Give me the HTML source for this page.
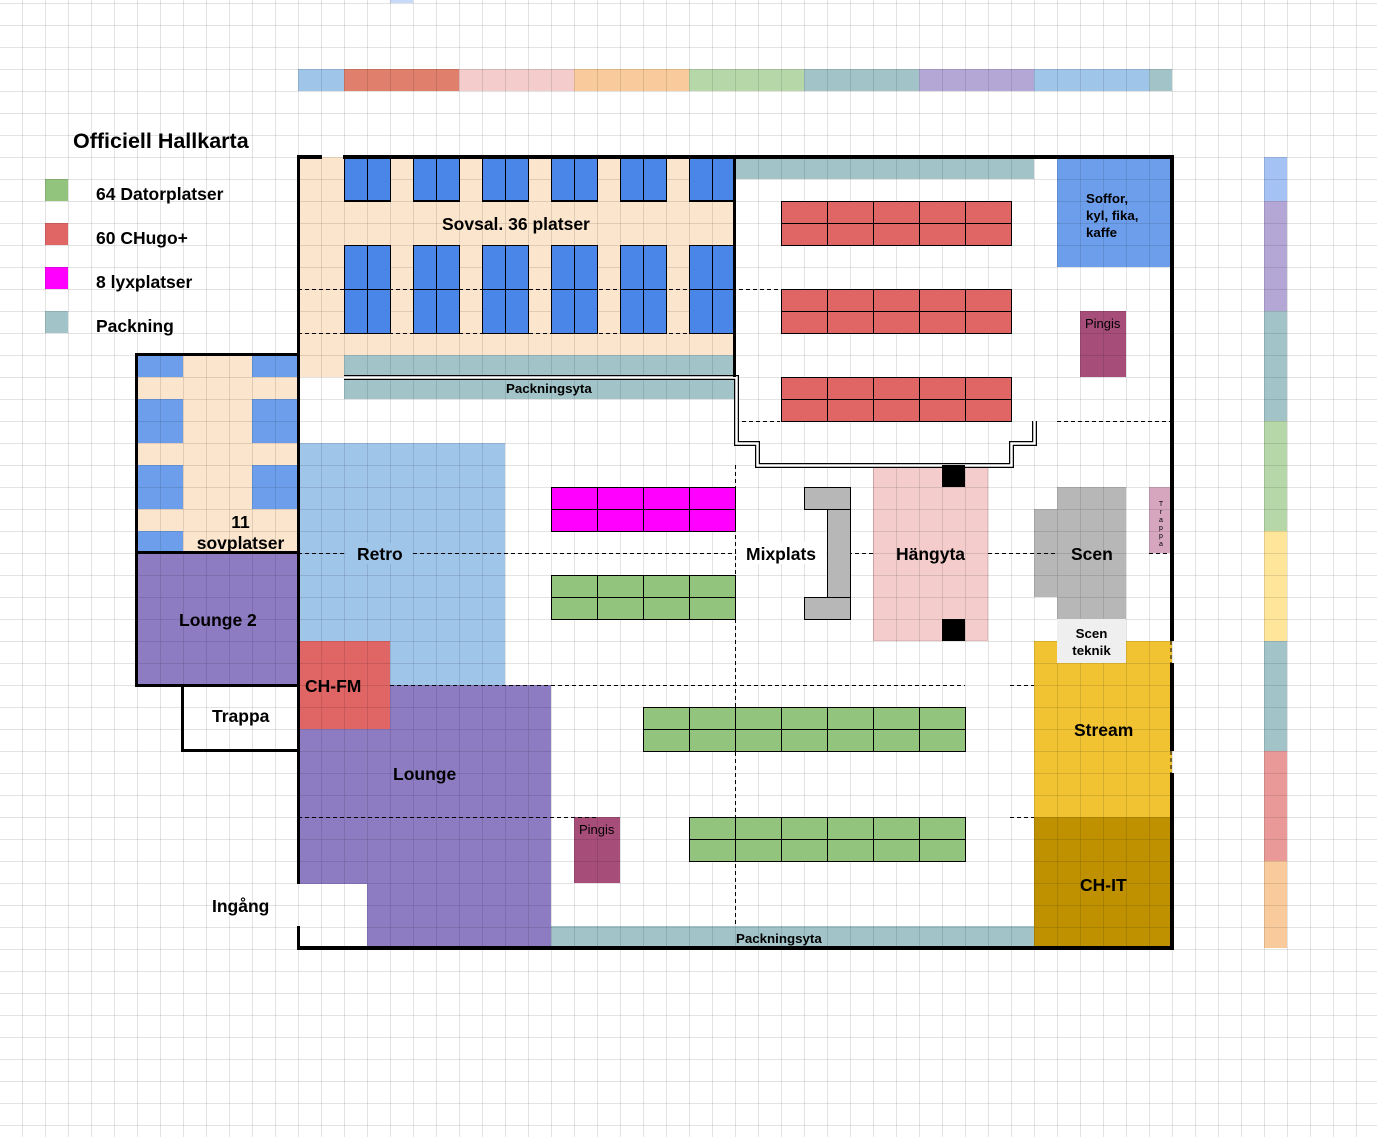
<!DOCTYPE html>
<html><head><meta charset="utf-8">
<style>
html,body{margin:0;padding:0;}
body{width:1377px;height:1137px;position:relative;overflow:hidden;background:#fff;font-family:"Liberation Sans",Arial,sans-serif;}
.a{position:absolute;box-sizing:border-box;}
.grid{position:absolute;left:0;top:0;width:1377px;height:1137px;z-index:5;pointer-events:none;
background-image:linear-gradient(to right,rgba(0,0,0,0.11) 1px,transparent 1px),linear-gradient(rgba(0,0,0,0.11) 1px,transparent 1px);
background-size:23px 22px;background-position:-1px 3px;}
.t{position:absolute;z-index:20;font-weight:bold;color:#000;white-space:nowrap;}
.tb{position:absolute;z-index:12;box-sizing:border-box;border:1px solid #000;
background-image:linear-gradient(to right,#000 1px,transparent 1px),linear-gradient(#000 1px,transparent 1px);
background-position:-1px -1px;}
.w{position:absolute;z-index:15;background:#000;}
</style></head><body>

<div class="a" style="left:390px;top:0;width:23px;height:3px;background:#c9daf8"></div>

<div class="a" style="left:298px;top:69px;width:46px;height:22px;background:#9fc5e8"></div>
<div class="a" style="left:344px;top:69px;width:115px;height:22px;background:#e07f6b"></div>
<div class="a" style="left:459px;top:69px;width:115px;height:22px;background:#f4cccc"></div>
<div class="a" style="left:574px;top:69px;width:115px;height:22px;background:#f9cb9c"></div>
<div class="a" style="left:689px;top:69px;width:115px;height:22px;background:#b6d7a8"></div>
<div class="a" style="left:804px;top:69px;width:115px;height:22px;background:#a2c4c9"></div>
<div class="a" style="left:919px;top:69px;width:115px;height:22px;background:#b4a7d6"></div>
<div class="a" style="left:1034px;top:69px;width:115px;height:22px;background:#9fc5e8"></div>
<div class="a" style="left:1149px;top:69px;width:23px;height:22px;background:#a2c4c9"></div>

<div class="a" style="left:1264px;top:157px;width:23px;height:44px;background:#a4c2f4"></div>
<div class="a" style="left:1264px;top:201px;width:23px;height:110px;background:#b4a7d6"></div>
<div class="a" style="left:1264px;top:311px;width:23px;height:110px;background:#a2c4c9"></div>
<div class="a" style="left:1264px;top:421px;width:23px;height:110px;background:#b6d7a8"></div>
<div class="a" style="left:1264px;top:531px;width:23px;height:110px;background:#ffe599"></div>
<div class="a" style="left:1264px;top:641px;width:23px;height:110px;background:#a2c4c9"></div>
<div class="a" style="left:1264px;top:751px;width:23px;height:110px;background:#ea9999"></div>
<div class="a" style="left:1264px;top:861px;width:23px;height:87px;background:#f9cb9c"></div>

<div class="t" style="left:73px;top:129px;font-size:21.5px;">Officiell Hallkarta</div>
<div class="a" style="left:45px;top:179px;width:23px;height:22px;background:#93c47d"></div>
<div class="a" style="left:45px;top:223px;width:23px;height:22px;background:#e06666"></div>
<div class="a" style="left:45px;top:267px;width:23px;height:22px;background:#ff00ff"></div>
<div class="a" style="left:45px;top:311px;width:23px;height:22px;background:#a2c4c9"></div>
<div class="t" style="left:96px;top:184px;font-size:17.5px;">64 Datorplatser</div>
<div class="t" style="left:96px;top:228px;font-size:17.5px;">60 CHugo+</div>
<div class="t" style="left:96px;top:272px;font-size:17.5px;">8 lyxplatser</div>
<div class="t" style="left:96px;top:316px;font-size:17.5px;">Packning</div>

<div class="a" style="left:298px;top:157px;width:437px;height:198px;background:#fce5cd"></div>
<div class="a" style="left:298px;top:355px;width:46px;height:22px;background:#fce5cd"></div>
<div class="a" style="left:344px;top:355px;width:391px;height:22px;background:#a2c4c9"></div>
<div class="a" style="left:344px;top:377px;width:391px;height:22px;background:#a2c4c9"></div>
<div class="a" style="left:735px;top:157px;width:299px;height:22px;background:#a2c4c9"></div>

<div class="tb" style="left:344px;top:157px;width:47px;height:45px;background-color:#4a86e8;background-size:23px 100%;"></div>
<div class="tb" style="left:413px;top:157px;width:47px;height:45px;background-color:#4a86e8;background-size:23px 100%;"></div>
<div class="tb" style="left:482px;top:157px;width:47px;height:45px;background-color:#4a86e8;background-size:23px 100%;"></div>
<div class="tb" style="left:551px;top:157px;width:47px;height:45px;background-color:#4a86e8;background-size:23px 100%;"></div>
<div class="tb" style="left:620px;top:157px;width:47px;height:45px;background-color:#4a86e8;background-size:23px 100%;"></div>
<div class="tb" style="left:689px;top:157px;width:47px;height:45px;background-color:#4a86e8;background-size:23px 100%;"></div>
<div class="tb" style="left:344px;top:245px;width:47px;height:89px;background-color:#4a86e8;background-size:23px 44px;"></div>
<div class="tb" style="left:413px;top:245px;width:47px;height:89px;background-color:#4a86e8;background-size:23px 44px;"></div>
<div class="tb" style="left:482px;top:245px;width:47px;height:89px;background-color:#4a86e8;background-size:23px 44px;"></div>
<div class="tb" style="left:551px;top:245px;width:47px;height:89px;background-color:#4a86e8;background-size:23px 44px;"></div>
<div class="tb" style="left:620px;top:245px;width:47px;height:89px;background-color:#4a86e8;background-size:23px 44px;"></div>
<div class="tb" style="left:689px;top:245px;width:47px;height:89px;background-color:#4a86e8;background-size:23px 44px;"></div>
<div class="t" style="left:442px;top:214px;font-size:17.5px;">Sovsal. 36 platser</div>
<div class="t" style="left:506px;top:381px;font-size:13.3px;">Packningsyta</div>

<div class="tb" style="left:781px;top:201px;width:231px;height:45px;background-color:#e06666;background-size:46px 22px;"></div>
<div class="tb" style="left:781px;top:289px;width:231px;height:45px;background-color:#e06666;background-size:46px 22px;"></div>
<div class="tb" style="left:781px;top:377px;width:231px;height:45px;background-color:#e06666;background-size:46px 22px;"></div>

<div class="a" style="left:1057px;top:157px;width:115px;height:110px;background:#6d9eeb"></div>
<div class="t" style="left:1086px;top:190px;font-size:13.3px;line-height:17px;">Soffor,<br>kyl, fika,<br>kaffe</div>
<div class="a" style="left:1080px;top:311px;width:46px;height:66px;background:#a64d79"></div>
<div class="t" style="left:1085px;top:316px;font-size:13px;font-weight:normal;">Pingis</div>

<div class="a" style="left:137px;top:355px;width:161px;height:198px;background:#fce5cd"></div>
<div class="a" style="left:137px;top:355px;width:46px;height:22px;background:#6d9eeb"></div>
<div class="a" style="left:252px;top:355px;width:46px;height:22px;background:#6d9eeb"></div>
<div class="a" style="left:137px;top:399px;width:46px;height:44px;background:#6d9eeb"></div>
<div class="a" style="left:252px;top:399px;width:46px;height:44px;background:#6d9eeb"></div>
<div class="a" style="left:137px;top:465px;width:46px;height:44px;background:#6d9eeb"></div>
<div class="a" style="left:252px;top:465px;width:46px;height:44px;background:#6d9eeb"></div>
<div class="a" style="left:137px;top:531px;width:46px;height:22px;background:#6d9eeb"></div>
<div class="t" style="left:183px;top:512px;width:115px;text-align:center;font-size:17.5px;line-height:21px;">11<br>sovplatser</div>
<div class="a" style="left:137px;top:553px;width:161px;height:132px;background:#8e7cc3"></div>
<div class="t" style="left:179px;top:610px;font-size:17.5px;">Lounge 2</div>
<div class="t" style="left:212px;top:706px;font-size:17.5px;">Trappa</div>
<div class="t" style="left:212px;top:896px;font-size:17.5px;">Ingång</div>

<div class="a" style="left:298px;top:443px;width:207px;height:242px;background:#9fc5e8"></div>
<div class="a" style="left:390px;top:685px;width:161px;height:263px;background:#8e7cc3"></div>
<div class="a" style="left:298px;top:729px;width:92px;height:155px;background:#8e7cc3"></div>
<div class="a" style="left:367px;top:884px;width:23px;height:64px;background:#8e7cc3"></div>
<div class="a" style="left:298px;top:641px;width:92px;height:88px;background:#e06666"></div>
<div class="t" style="left:305px;top:676px;font-size:17.5px;">CH-FM</div>
<div class="t" style="left:393px;top:764px;font-size:17.5px;">Lounge</div>

<div class="tb" style="left:551px;top:487px;width:185px;height:45px;background-color:#ff00ff;background-size:46px 22px;"></div>
<div class="tb" style="left:551px;top:575px;width:185px;height:45px;background-color:#93c47d;background-size:46px 22px;"></div>
<div class="tb" style="left:643px;top:707px;width:323px;height:45px;background-color:#93c47d;background-size:46px 22px;"></div>
<div class="tb" style="left:689px;top:817px;width:277px;height:45px;background-color:#93c47d;background-size:46px 22px;"></div>
<div class="a" style="left:574px;top:817px;width:46px;height:66px;background:#a64d79"></div>
<div class="t" style="left:579px;top:822px;font-size:13px;font-weight:normal;">Pingis</div>

<div class="a" style="left:551px;top:926px;width:483px;height:22px;background:#a2c4c9"></div>
<div class="t" style="left:736px;top:931px;font-size:13.3px;">Packningsyta</div>

<div class="tb" style="left:804px;top:487px;width:47px;height:23px;background:#b7b7b7;"></div>
<div class="tb" style="left:827px;top:509px;width:24px;height:89px;background:#b7b7b7;"></div>
<div class="tb" style="left:804px;top:597px;width:47px;height:23px;background:#b7b7b7;"></div>

<div class="a" style="left:873px;top:465px;width:115px;height:176px;background:#f4cccc;border:1px solid #e6b8b8"></div>
<div class="a" style="left:942px;top:465px;width:23px;height:22px;background:#000;z-index:12"></div>
<div class="a" style="left:942px;top:619px;width:23px;height:22px;background:#000;z-index:12"></div>

<div class="a" style="left:1057px;top:487px;width:69px;height:132px;background:#b7b7b7"></div>
<div class="a" style="left:1034px;top:509px;width:23px;height:88px;background:#b7b7b7"></div>
<div class="a" style="left:1057px;top:619px;width:69px;height:44px;background:#efefef;z-index:8"></div>
<div class="a" style="left:1149px;top:487px;width:23px;height:66px;background:#d5a6bd"></div>
<div class="t" style="left:1157px;top:501px;font-size:7px;line-height:8px;font-weight:normal;text-align:center;width:8px;">T<br>r<br>a<br>p<br>p<br>a</div>

<div class="a" style="left:1034px;top:641px;width:138px;height:176px;background:#f1c232"></div>
<div class="a" style="left:1034px;top:817px;width:138px;height:131px;background:#bf9000"></div>

<div class="grid"></div>

<svg class="a" style="left:0;top:0;z-index:11" width="1377" height="1137">
<g stroke="#000" stroke-width="1" stroke-dasharray="4 3" fill="none">
<line x1="298" y1="289.5" x2="780" y2="289.5"/>
<line x1="298" y1="333.5" x2="735" y2="333.5"/>
<line x1="735" y1="421.5" x2="780" y2="421.5"/>
<line x1="1057" y1="421.5" x2="1172" y2="421.5"/>
<line x1="298" y1="553.5" x2="345" y2="553.5"/>
<line x1="413" y1="553.5" x2="736" y2="553.5"/>
<line x1="827" y1="553.5" x2="873" y2="553.5"/>
<line x1="988" y1="553.5" x2="1057" y2="553.5"/>
<line x1="1149" y1="553.5" x2="1172" y2="553.5"/>
<line x1="390" y1="685.5" x2="965" y2="685.5"/>
<line x1="1010" y1="685.5" x2="1034" y2="685.5"/>
<line x1="298" y1="817.5" x2="597" y2="817.5"/>
<line x1="1010" y1="817.5" x2="1034" y2="817.5"/>
<line x1="735.5" y1="465" x2="735.5" y2="926"/>
<line x1="1171" y1="641" x2="1171" y2="663"/>
<line x1="1171" y1="751" x2="1171" y2="773"/>
</g>
<polyline points="344,377.5 736.5,377.5 736.5,443.5 757.5,443.5 757.5,465.5 1011.5,465.5 1011.5,443.5 1034.5,443.5 1034.5,421" fill="none" stroke="#000" stroke-width="5"/>
<polyline points="344,377.5 736.5,377.5 736.5,443.5 757.5,443.5 757.5,465.5 1011.5,465.5 1011.5,443.5 1034.5,443.5 1034.5,421" fill="none" stroke="#fff" stroke-width="2.5"/>
</svg>

<div class="w" style="left:297px;top:155px;width:25px;height:4px;"></div>
<div class="w" style="left:343px;top:155px;width:831px;height:4px;"></div>
<div class="w" style="left:297px;top:155px;width:3px;height:729px;"></div>
<div class="w" style="left:297px;top:926px;width:3px;height:24px;"></div>
<div class="w" style="left:297px;top:946px;width:877px;height:4px;"></div>
<div class="w" style="left:1170px;top:155px;width:4px;height:486px;"></div>
<div class="w" style="left:1170px;top:663px;width:4px;height:88px;"></div>
<div class="w" style="left:1170px;top:773px;width:4px;height:177px;"></div>
<div class="w" style="left:733px;top:157px;width:3px;height:220px;"></div>
<div class="w" style="left:135px;top:353px;width:164px;height:3px;"></div>
<div class="w" style="left:135px;top:353px;width:3px;height:334px;"></div>
<div class="w" style="left:135px;top:551px;width:164px;height:3px;"></div>
<div class="w" style="left:135px;top:684px;width:164px;height:3px;"></div>
<div class="w" style="left:181px;top:684px;width:3px;height:68px;"></div>
<div class="w" style="left:181px;top:749px;width:118px;height:3px;"></div>

<div class="a" style="left:346px;top:543px;width:66px;height:21px;background:#9fc5e8;z-index:16"></div>
<div class="t" style="left:357px;top:544px;font-size:17.5px;">Retro</div>
<div class="a" style="left:737px;top:542px;width:89px;height:22px;background:#fff;z-index:16"></div>
<div class="t" style="left:746px;top:544px;font-size:17.5px;">Mixplats</div>
<div class="t" style="left:896px;top:544px;font-size:17.5px;">Hängyta</div>
<div class="t" style="left:1071px;top:544px;font-size:17.5px;">Scen</div>
<div class="t" style="left:1057px;top:625px;width:69px;text-align:center;font-size:13.3px;line-height:17px;">Scen<br>teknik</div>
<div class="t" style="left:1074px;top:720px;font-size:17.5px;">Stream</div>
<div class="t" style="left:1080px;top:875px;font-size:17.5px;">CH-IT</div>

</body></html>
